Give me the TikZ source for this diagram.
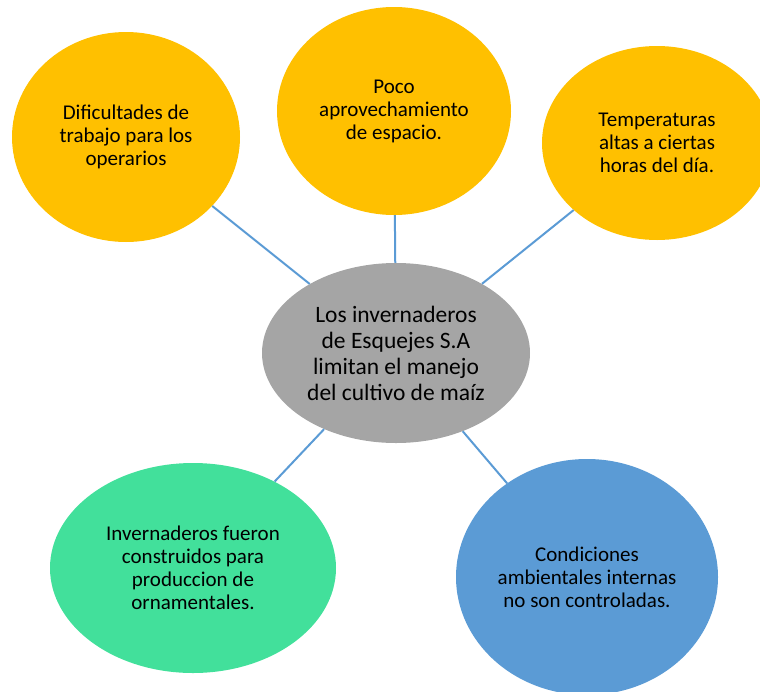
\documentclass[tikz,border=0pt]{standalone}
\usepackage{fontspec}
\setmainfont{Carlito}
\usetikzlibrary{positioning,shapes.geometric}

\definecolor{causeorange}{HTML}{FFC000}
\definecolor{coregray}{HTML}{A5A5A5}
\definecolor{causegreen}{HTML}{42E09B}
\definecolor{causeblue}{HTML}{5B9BD5}

\begin{document}
\begin{tikzpicture}[x=1pt,y=-1pt,
    cause/.style={ellipse,fill=causeorange,inner sep=0pt,align=center,
		font=\fontsize{21}{23}\selectfont},
    core/.style={ellipse,fill=coregray,inner sep=0pt,align=center,
		font=\fontsize{23.5}{26}\selectfont},
% connector style
    link/.style={draw=causeblue,line width=2pt}
    ]
   \useasboundingbox (0,0) rectangle (760,691);
%%% central problem
   \node [core, minimum width=268pt, minimum height=180pt] (problem) at (396,353)
       {Los invernaderos\\de Esquejes S.A\\limitan el manejo\\del cultivo de maíz};
%%% causes around it
   \node [cause, minimum width=228pt, minimum height=210pt] (trabajo) at (126,137)
       {Dificultades de\\trabajo para los\\operarios};
   \node [cause, minimum width=234pt, minimum height=208pt] (espacio) at (394,111)
       {Poco\\aprovechamiento\\de espacio.};
   \node [cause, minimum width=230pt, minimum height=194pt] (temp) at (657,143)
       {Temperaturas\\altas a ciertas\\horas del día.};
   \node [cause, fill=causegreen, minimum width=286pt, minimum height=210pt] (ornam) at (193,568)
       {Invernaderos fueron\\construidos para\\produccion de\\ornamentales.};
   \node [cause, fill=causeblue, minimum width=262pt, minimum height=236pt] (clima) at (587,577)
       {Condiciones\\ambientales internas\\no son controladas.};

   \draw [link] (trabajo) -- (problem);
   \draw [link] (espacio) -- (problem);
   \draw [link] (temp) -- (problem);
   \draw [link] (ornam) -- (problem);
   \draw [link] (clima) -- (problem);
\end{tikzpicture}
\end{document}
